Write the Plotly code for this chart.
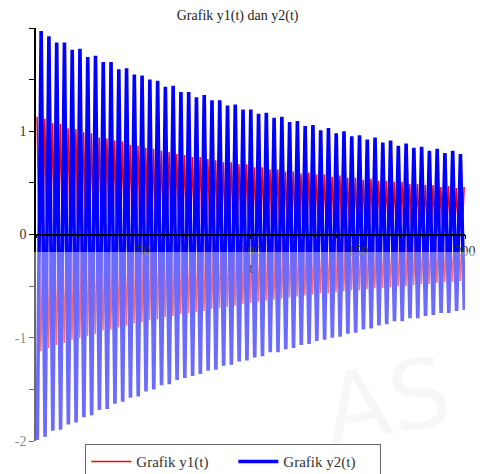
import numpy as np
import plotly.graph_objects as go

# ---- text ----
title_text = "Grafik y1(t) dan y2(t)"
series_names = ["Grafik y1(t)", "Grafik y2(t)"]
x_axis_label = "t"
x_tick_vals = [50, 100, 150, 200]
y_tick_vals = [-2, -1, 0, 1]
y_tick_text = ["-2", "-1", "0", "1"]

# ---- data: successive maxima / minima of each curve ----
period = 3.62          # spacing of successive maxima along t
y2_peak_t0 = 2.4
y2_trough_t0 = 0.6
y1_peak_t0 = 0.5
y1_trough_t0 = 2.3

y2_peaks = [1.97, 1.92, 1.86, 1.86, 1.79, 1.80, 1.72, 1.73, 1.67, 1.67,
            1.60, 1.61, 1.55, 1.54, 1.50, 1.49, 1.43, 1.44, 1.38, 1.38,
            1.33, 1.35, 1.30, 1.30, 1.25, 1.26, 1.21, 1.21, 1.17, 1.18,
            1.13, 1.14, 1.09, 1.10, 1.05, 1.06, 1.01, 1.03, 0.98, 1.00,
            0.95, 0.96, 0.92, 0.94, 0.89, 0.91, 0.86, 0.88, 0.84, 0.85,
            0.81, 0.83, 0.79, 0.81, 0.78]
y2_troughs = [-1.99, -1.96, -1.90, -1.89, -1.84, -1.82, -1.77, -1.75, -1.70, -1.69,
              -1.64, -1.62, -1.58, -1.57, -1.52, -1.50, -1.46, -1.45, -1.41, -1.39,
              -1.37, -1.35, -1.32, -1.31, -1.27, -1.26, -1.23, -1.22, -1.19, -1.18,
              -1.14, -1.14, -1.11, -1.10, -1.07, -1.06, -1.03, -1.02, -1.00, -0.99,
              -0.96, -0.95, -0.92, -0.91, -0.88, -0.87, -0.84, -0.84, -0.81, -0.81,
              -0.79, -0.78, -0.76, -0.76, -0.74, -0.73]
y1_peaks = [1.14, 1.12, 1.08, 1.07, 1.03, 1.02, 0.99, 0.98, 0.94, 0.93,
            0.91, 0.90, 0.87, 0.86, 0.84, 0.83, 0.81, 0.80, 0.78, 0.77,
            0.75, 0.75, 0.73, 0.72, 0.70, 0.70, 0.68, 0.68, 0.65, 0.65,
            0.63, 0.63, 0.61, 0.61, 0.59, 0.60, 0.58, 0.58, 0.56, 0.57,
            0.55, 0.55, 0.53, 0.54, 0.52, 0.52, 0.51, 0.51, 0.49, 0.49,
            0.48, 0.48, 0.46, 0.47, 0.45, 0.46]
y1_troughs = [-1.13, -1.10, -1.07, -1.05, -1.02, -1.00, -0.98, -0.96, -0.93, -0.92,
              -0.90, -0.88, -0.86, -0.85, -0.83, -0.82, -0.80, -0.79, -0.77, -0.76,
              -0.75, -0.74, -0.72, -0.71, -0.70, -0.69, -0.67, -0.66, -0.65, -0.64,
              -0.63, -0.62, -0.61, -0.60, -0.59, -0.58, -0.57, -0.57, -0.56, -0.55,
              -0.54, -0.54, -0.53, -0.52, -0.52, -0.51, -0.50, -0.50, -0.49, -0.48,
              -0.48, -0.47, -0.46, -0.46, -0.45]


def build(p_t0, p_vals, tr_t0, tr_vals):
    tp = p_t0 + period * np.arange(len(p_vals))
    tt = tr_t0 + period * np.arange(len(tr_vals))
    t = np.concatenate([tp, tt])
    v = np.concatenate([np.array(p_vals), np.array(tr_vals)])
    order = np.argsort(t)
    return t[order], v[order]


t1, v1 = build(y1_peak_t0, y1_peaks, y1_trough_t0, y1_troughs)
t2, v2 = build(y2_peak_t0, y2_peaks, y2_trough_t0, y2_troughs)

SERIF = "Liberation Serif, Times New Roman, serif"

fig = go.Figure()
fig.add_trace(go.Scatter(x=t1, y=v1, mode="lines", name=series_names[0],
                         line=dict(color="#ff0000", width=1.5)))
fig.add_trace(go.Scatter(x=t2, y=v2, mode="lines", name=series_names[1],
                         line=dict(color="#0000ff", width=3.6)))

# washed-out lower part of the picture
fig.add_shape(type="rect", xref="paper", yref="paper",
              x0=-0.09, x1=1.04, y0=-0.09, y1=0.4576,
              fillcolor="rgba(255,255,255,0.42)", line=dict(width=0),
              layer="above")

# faint watermark in the lower right
fig.add_annotation(text="AS", xref="paper", yref="paper",
                   x=0.82, y=-0.07, xanchor="center", yanchor="bottom",
                   showarrow=False, textangle=-10,
                   font=dict(family="DejaVu Sans", size=96, color="rgba(0,0,0,0.03)"))

fig.add_annotation(text=x_axis_label, xref="paper", yref="paper",
                   x=0.5, y=0.418, showarrow=False,
                   font=dict(family=SERIF, size=14, color="#555"))

fig.update_layout(
    width=480, height=474,
    margin=dict(l=36, r=15, t=28, b=33, autoexpand=False),
    paper_bgcolor="white", plot_bgcolor="white",
    title=dict(text=title_text, x=0.495, xanchor="center", y=0.978, yanchor="top",
               font=dict(family=SERIF, size=14, color="#222")),
    showlegend=True,
    legend=dict(orientation="h", x=0.46, xanchor="center", y=-0.008, yanchor="top",
                bordercolor="#666", borderwidth=1, bgcolor="rgba(255,255,255,0)",
                font=dict(family=SERIF, size=15, color="#333"),
                itemwidth=40, tracegroupgap=0,
                entrywidth=92, entrywidthmode="pixels"),
    xaxis=dict(range=[0, 200], anchor="free", position=0.5,
               showline=True, linecolor="black", linewidth=1.5,
               showgrid=False, zeroline=False,
               tickmode="array", tickvals=x_tick_vals,
               ticks="outside", ticklen=4, tickcolor="black",
               minor=dict(dtick=10, tick0=0, ticks="outside", ticklen=3,
                          tickcolor="black", showgrid=False),
               tickfont=dict(family=SERIF, size=14, color="#333")),
    yaxis=dict(range=[-2, 2], showline=True, linecolor="black", linewidth=1.5,
               showgrid=False, zeroline=False,
               tickmode="array", tickvals=y_tick_vals, ticktext=y_tick_text,
               ticks="outside", ticklen=5, tickcolor="black",
               minor=dict(dtick=0.5, tick0=0, ticks="outside", ticklen=5,
                          tickcolor="black", showgrid=False),
               tickfont=dict(family=SERIF, size=14, color="#333")),
)

fig.write_html("out.html")
